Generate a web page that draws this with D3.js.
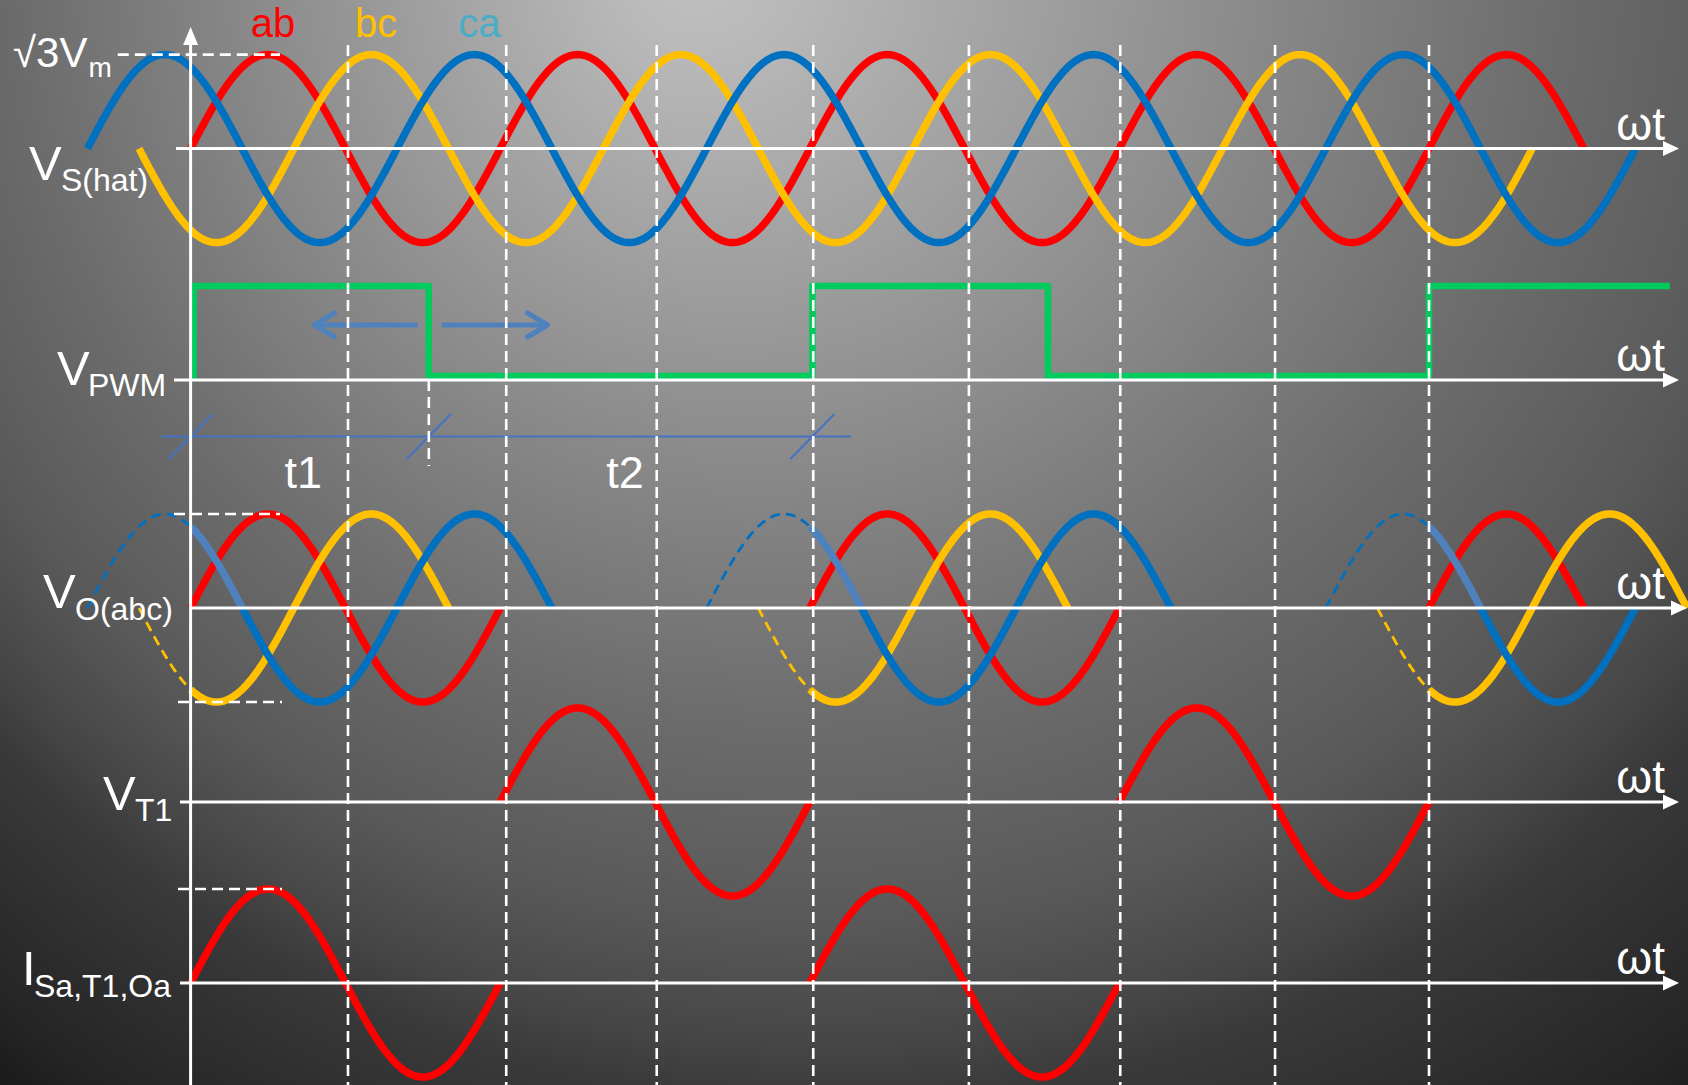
<!DOCTYPE html>
<html><head><meta charset="utf-8">
<script src="https://cdn.jsdelivr.net/npm/d3@7"></script>
<style>html,body{margin:0;padding:0;background:#000;overflow:hidden}svg{display:block}</style>
</head><body>
<svg id="c" width="1688" height="1085"></svg>
<script>
// ---------------- data ----------------
const seriesNames = ["ab", "bc", "ca"];
const seriesPhaseDeg = [0, -120, 120];
const seriesColor = ["#ff0000", "#ffc000", "#0070c0"];
const seriesLabelColor = ["#ff0000", "#ffc000", "#4bacc6"];
const seriesPeakDeg = [90, 210, 330];
const lightBlue = "#4f81bd";

// dashed guide positions (ωt in degrees)
const halfPeriodMarks = [183, 367, 542, 724, 905, 1081, 1261, 1440];

// V_S(hat): full three-phase line voltages
const topSeries = [0, 1, 2];
const topStart = [0, -60, -120];
const topEnd = [1620, 1560, 1680];

// V_PWM
const pwmEdges = [0, 277, 723, 997, 1440, 1720];
const pwmLevels = [1, 0, 1, 0, 1];
const pwmArrowFrom = [264, 292];
const pwmArrowTo = [144, 415];

// t1 / t2 timing
const timingMarks = [0, 277, 723];
const timingLabels = ["t1", "t2"];
const timingLabelDeg = [131, 505];
const timingSpan = [-34, 768];

// V_O(abc) segments
const voSeries = [2, 1, 0, 1, 2, 2,   2, 1, 0, 1, 2, 2,   2, 1, 0, 1, 2, 2];
const voStart  = [-120, -60, 0, 0, 0, 60,   600, 660, 720, 720, 720, 780,   1320, 1380, 1440, 1440, 1440, 1500];
const voEnd    = [0, 0, 360, 300, 60, 420,   720, 720, 1080, 1020, 780, 1140,   1440, 1440, 1620, 1740, 1500, 1680];
const voStyle  = ["dash", "dash", "solid", "solid", "light", "solid",
                  "dash", "dash", "solid", "solid", "light", "solid",
                  "dash", "dash", "solid", "solid", "light", "solid"];

// V_T1 and I_Sa,T1,Oa (phase ab)
const vt1Start = [360, 1080];
const vt1End = [720, 1440];
const isaStart = [0, 720];
const isaEnd = [360, 1080];

// labels
const rowMain = ["V", "V", "V", "V", "I"];
const rowSub = ["S(hat)", "PWM", "O(abc)", "T1", "Sa,T1,Oa"];
const axisText = "ωt";
const peakMain = "√3V";
const peakSub = "m";

// ---------------- layout ----------------
const W = 1688, H = 1085;
const FONT = "'Liberation Sans', Arial, sans-serif";
const svg = d3.select("#c");
const defs = svg.append("defs");

const grad = defs.append("radialGradient").attr("id", "bg")
  .attr("gradientUnits", "userSpaceOnUse")
  .attr("cx", 880).attr("cy", -60).attr("r", 1480).attr("fx", 690).attr("fy", -30);
[[0, 192], [0.05, 186], [0.41, 126], [0.52, 108], [0.62, 94], [0.66, 88], [0.74, 70], [0.78, 58], [0.93, 36], [1, 20]]
  .forEach(([o, v]) => grad.append("stop").attr("offset", o).attr("stop-color", d3.rgb(v, v, v)));
svg.append("rect").attr("width", W).attr("height", H).attr("fill", "url(#bg)");

const x = d3.scaleLinear().domain([0, 180]).range([190.6, 345.4]);
const A = 94;
const rowAxisY = [148.6, 380, 608, 802, 983];
const yRow = rowAxisY.map(cy => d3.scaleLinear().domain([-1, 1]).range([cy + A, cy - A]));
const yPWM = d3.scaleLinear().domain([0, 1]).range([376, 286]);

const line = d3.line().x(d => d[0]).y(d => d[1]);
function wave(s, a, b, ys) {
  const pts = [];
  const n = Math.max(2, Math.ceil((b - a) / 2));
  for (let i = 0; i <= n; i++) {
    const t = a + (b - a) * i / n;
    pts.push([x(t), ys(Math.sin((t + seriesPhaseDeg[s]) * Math.PI / 180))]);
  }
  return line(pts);
}

const gCurves = svg.append("g").attr("fill", "none").attr("stroke-linejoin", "round");
const SW = 7.5;

// top panel
topSeries.forEach((s, i) => {
  gCurves.append("path").attr("d", wave(s, topStart[i], topEnd[i], yRow[0]))
    .attr("stroke", seriesColor[s]).attr("stroke-width", SW);
});

// VO panel
voSeries.forEach((s, i) => {
  const st = voStyle[i];
  const p = gCurves.append("path").attr("d", wave(s, voStart[i], voEnd[i], yRow[2]));
  if (st === "dash") p.attr("stroke", seriesColor[s]).attr("stroke-width", 2.8).attr("stroke-dasharray", "10,6");
  else p.attr("stroke", st === "light" ? lightBlue : seriesColor[s]).attr("stroke-width", SW);
});

// VT1 & ISa
vt1Start.forEach((a, i) => gCurves.append("path").attr("d", wave(0, a, vt1End[i], yRow[3]))
  .attr("stroke", seriesColor[0]).attr("stroke-width", SW));
isaStart.forEach((a, i) => gCurves.append("path").attr("d", wave(0, a, isaEnd[i], yRow[4]))
  .attr("stroke", seriesColor[0]).attr("stroke-width", SW));

// PWM
let pd = `M${x(pwmEdges[0]) + 3},${rowAxisY[1]}`;
pwmLevels.forEach((lv, i) => {
  const xa = i === 0 ? x(pwmEdges[0]) + 3 : x(pwmEdges[i]);
  pd += `H${xa}V${yPWM(lv)}H${x(pwmEdges[i + 1])}`;
});
gCurves.append("path").attr("d", pd).attr("stroke", "#00cc5e").attr("stroke-width", 6.5);

// PWM arrows
const blueArrow = "#4f81bd";
pwmArrowFrom.forEach((f, i) => {
  const t = pwmArrowTo[i], yA = 325, dir = Math.sign(x(t) - x(f));
  gCurves.append("line").attr("x1", x(f)).attr("x2", x(t)).attr("y1", yA).attr("y2", yA)
    .attr("stroke", blueArrow).attr("stroke-width", 5);
  gCurves.append("path").attr("d", `M${x(t) - dir * 20},${yA - 12}L${x(t)},${yA}L${x(t) - dir * 20},${yA + 12}`)
    .attr("stroke", blueArrow).attr("stroke-width", 5).attr("stroke-linecap", "round");
});

// timing line
const gT = svg.append("g");
gT.append("line").attr("x1", x(timingSpan[0])).attr("x2", x(timingSpan[1])).attr("y1", 436.5).attr("y2", 436.5)
  .attr("stroke", "#4472c4").attr("stroke-width", 2);
timingMarks.forEach(m => gT.append("line").attr("x1", x(m) - 22).attr("y1", 459).attr("x2", x(m) + 22).attr("y2", 414)
  .attr("stroke", "#4472c4").attr("stroke-width", 2));
timingLabels.forEach((t, i) => gT.append("text").text(t)
  .attr("x", x(timingLabelDeg[i])).attr("y", 488)
  .attr("text-anchor", "middle").attr("fill", "#fff").attr("font-size", 45).attr("font-family", FONT));

// axes
const gA = svg.append("g").attr("stroke", "#fff").attr("fill", "#fff");
const x0 = x(0);
gA.append("line").attr("x1", x0).attr("x2", x0).attr("y1", 40).attr("y2", H).attr("stroke-width", 3);
gA.append("path").attr("d", `M${x0},27L${x0 + 7.5},45L${x0 - 7.5},45Z`).attr("stroke", "none");
const axStart = [176, 174, x0, 180, 180];
const axTip = [1679, 1679, 1687, 1679, 1679];
rowAxisY.forEach((cy, i) => {
  gA.append("line").attr("x1", axStart[i]).attr("x2", axTip[i] - 12).attr("y1", cy).attr("y2", cy).attr("stroke-width", 3);
  gA.append("path").attr("d", `M${axTip[i]},${cy}L${axTip[i] - 16},${cy - 7.5}L${axTip[i] - 16},${cy + 7.5}Z`).attr("stroke", "none");
  gA.append("text").text(axisText).attr("x", 1665).attr("y", cy - 9).attr("text-anchor", "end")
    .attr("stroke", "none").attr("font-size", 46).attr("font-family", FONT);
});

// text labels
const gL = svg.append("g").attr("fill", "#fff").attr("font-family", FONT);
const pm = gL.append("text").text(peakMain).attr("x", 13).attr("y", 67).attr("font-size", 42);
const pmEnd = 13 + pm.node().getComputedTextLength();
const ps = gL.append("text").text(peakSub).attr("x", pmEnd + 1).attr("y", 77).attr("font-size", 28);
const psEnd = pmEnd + 1 + ps.node().getComputedTextLength();

seriesNames.forEach((n, s) => gL.append("text").text(n).attr("x", x(seriesPeakDeg[s]) + 5).attr("y", 37)
  .attr("text-anchor", "middle").attr("fill", seriesLabelColor[s]).attr("font-size", 40));

const mainPos = [[29, 180], [57, 385], [43, 608], [103, 810], [22, 985]];
const subPos = [[61, 191], [88, 396], [75, 620], [135, 821], [34, 997]];
rowMain.forEach((m, i) => {
  gL.append("text").text(m).attr("x", mainPos[i][0]).attr("y", mainPos[i][1]).attr("font-size", 49);
  gL.append("text").text(rowSub[i]).attr("x", subPos[i][0]).attr("y", subPos[i][1]).attr("font-size", 32);
});

// dashed guides
const gD = svg.append("g").attr("stroke", "#fff").attr("stroke-width", 2.6).attr("stroke-dasharray", "11,6");
halfPeriodMarks.forEach(m => gD.append("line").attr("x1", x(m)).attr("x2", x(m)).attr("y1", 45).attr("y2", H));
gD.append("line").attr("x1", x(pwmEdges[1])).attr("x2", x(pwmEdges[1])).attr("y1", rowAxisY[1]).attr("y2", 466);
gD.append("line").attr("x1", psEnd + 6).attr("x2", 280).attr("y1", yRow[0](1)).attr("y2", yRow[0](1));
gD.append("line").attr("x1", 174).attr("x2", 280).attr("y1", yRow[2](1)).attr("y2", yRow[2](1));
gD.append("line").attr("x1", 178).attr("x2", 282).attr("y1", yRow[2](-1)).attr("y2", yRow[2](-1));
gD.append("line").attr("x1", 178).attr("x2", 282).attr("y1", yRow[4](1)).attr("y2", yRow[4](1));
</script>
</body></html>
